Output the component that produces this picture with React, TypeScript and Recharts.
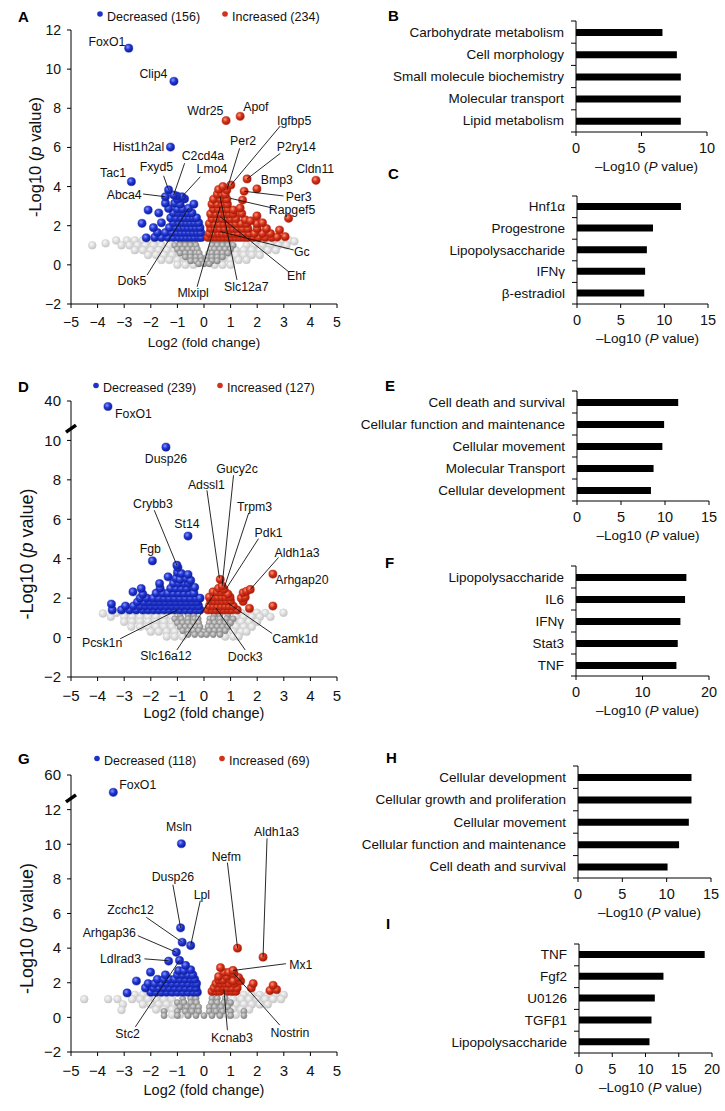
import React from 'react';
import { ScatterChart, Scatter, XAxis, YAxis, ReferenceDot, BarChart, Bar, Label } from 'recharts';

const FONT = '"Liberation Sans", Arial, Helvetica, sans-serif';
type P = [number, number];
type Ann = { name: string; x: number; y: number; sx?: number; sy?: number; px?: number; py?: number };

// ---------------- Panel A (volcano) ----------------
const aDecreased: P[] = [
  [-2.17,1.38],[-1.85,1.4],[-1.6,1.4],[-1.35,1.4],[-1.15,1.4],[-0.95,1.4],[-0.8,1.4],[-0.65,1.4],[-0.5,1.4],[-0.35,1.4],[-0.2,1.4],[-0.1,1.4],
  [-1.75,1.65],[-1.45,1.65],[-1.2,1.65],[-1.0,1.65],[-0.85,1.65],[-0.7,1.65],[-0.55,1.65],[-0.4,1.65],[-0.25,1.65],[-0.12,1.65],
  [-1.9,1.9],[-1.3,1.9],[-1.05,1.9],[-0.9,1.9],[-0.75,1.9],[-0.6,1.9],[-0.45,1.9],[-0.3,1.9],[-0.15,1.9],
  [-2.33,2.12],[-1.6,2.15],[-1.15,2.15],[-0.95,2.15],[-0.8,2.15],[-0.65,2.15],[-0.5,2.15],[-0.35,2.15],[-0.2,2.15],
  [-1.25,2.4],[-1.05,2.4],[-0.85,2.4],[-0.7,2.4],[-0.55,2.4],[-0.4,2.4],[-0.28,2.4],
  [-1.7,2.65],[-1.15,2.65],[-0.95,2.65],[-0.75,2.65],[-0.6,2.65],[-0.45,2.65],
  [-2.1,2.8],[-1.33,2.88],[-1.0,2.85],[-0.8,2.85],[-0.58,2.89],
  [-1.45,3.15],[-1.1,3.15],[-0.9,3.1],[-0.38,3.1],
  [-0.73,3.37],[-1.0,3.35],
  [-1.45,3.48],[-0.83,3.48],[-1.03,3.52],[-1.14,3.57],[-1.33,3.83],
  [-2.73,4.25],[-1.26,6.02],[-1.13,9.38],[-2.83,11.07],
];
const aIncreased: P[] = [
  [0.15,1.4],[0.3,1.4],[0.45,1.4],[0.6,1.4],[0.75,1.4],[0.9,1.4],[1.05,1.4],[1.2,1.4],[1.35,1.4],[1.5,1.4],[1.65,1.4],[1.85,1.4],[2.05,1.4],[2.3,1.4],[2.55,1.4],[2.75,1.42],[3.05,1.44],
  [0.2,1.6],[0.38,1.6],[0.55,1.6],[0.7,1.6],[0.85,1.6],[1.0,1.6],[1.15,1.6],[1.3,1.6],[1.5,1.6],[1.7,1.6],[1.9,1.6],[2.2,1.6],[2.5,1.6],[2.84,1.78],
  [0.25,1.85],[0.42,1.85],[0.6,1.85],[0.78,1.85],[0.95,1.85],[1.1,1.85],[1.25,1.85],[1.45,1.85],[1.65,1.85],[2.0,1.85],[2.35,1.85],
  [0.2,2.1],[0.4,2.1],[0.58,2.1],[0.75,2.1],[0.9,2.1],[1.05,2.1],[1.2,2.1],[1.4,2.1],[1.6,2.1],[1.99,2.1],[2.2,2.15],
  [0.3,2.35],[0.5,2.35],[0.68,2.35],[0.85,2.35],[1.0,2.35],[1.2,2.35],[1.55,2.3],[1.75,2.25],[1.99,2.5],[3.18,2.38],
  [0.25,2.6],[0.45,2.6],[0.62,2.6],[0.8,2.6],[0.95,2.6],[1.1,2.6],[1.42,2.62],
  [0.35,2.85],[0.55,2.85],[0.75,2.85],[0.9,2.85],[1.11,2.8],[1.36,2.9],
  [0.3,3.1],[0.5,3.1],[0.68,3.1],[0.88,3.1],
  [0.36,3.35],[0.62,3.35],[0.86,3.35],[1.45,3.31],
  [0.5,3.6],[0.67,3.6],[0.8,3.6],
  [0.55,3.85],[0.86,3.83],[0.71,4.0],
  [1.01,4.08],[1.62,4.39],[1.99,3.88],[1.51,3.76],[4.21,4.32],[0.83,7.37],[1.36,7.59],
];
const aLightGray: P[] = [
  [-3.3,1.25],[-2.9,1.25],[-2.6,1.25],[-2.3,1.25],[-2.0,1.25],[-1.7,1.25],[2.0,1.25],[2.3,1.25],[2.6,1.25],[2.9,1.25],[3.2,1.25],[3.4,1.2],
  [-4.2,1.0],[-3.7,1.1],[-3.1,1.0],[-2.8,1.0],[-2.5,1.0],[-2.2,1.0],[-1.9,1.0],[-1.6,1.0],[-1.3,1.0],[1.6,1.0],[1.9,1.0],[2.2,1.0],[2.5,1.0],[2.8,1.0],[3.1,1.0],
  [-2.6,0.75],[-2.3,0.75],[-2.0,0.75],[-1.7,0.75],[-1.4,0.75],[-1.1,0.75],[1.2,0.75],[1.5,0.75],[1.8,0.75],[2.1,0.75],[2.4,0.75],[2.7,0.75],
  [-2.1,0.5],[-1.8,0.5],[-1.5,0.5],[-1.2,0.5],[-0.9,0.5],[0.9,0.5],[1.2,0.5],[1.5,0.5],[1.8,0.5],[2.1,0.5],
  [-1.6,0.25],[-1.3,0.25],[-1.0,0.25],[-0.7,0.25],[0.7,0.25],[1.0,0.25],[1.3,0.25],[1.6,0.25],
  [-1.0,0.0],[-0.7,0.0],[-0.4,0.0],[0.4,0.0],[0.7,0.0],[1.0,0.0],
];
const aDarkGray: P[] = [
  [-0.9,1.2],[-0.7,1.2],[-0.5,1.2],[-0.35,1.2],[0.35,1.2],[0.5,1.2],[0.7,1.2],[0.9,1.2],
  [-1.1,1.0],[-0.9,1.0],[-0.7,1.0],[-0.5,1.0],[-0.3,1.0],[0.3,1.0],[0.5,1.0],[0.7,1.0],[0.9,1.0],[1.1,1.0],
  [-1.0,0.8],[-0.8,0.8],[-0.6,0.8],[-0.4,0.8],[-0.25,0.8],[0.25,0.8],[0.4,0.8],[0.6,0.8],[0.8,0.8],[1.0,0.8],
  [-0.9,0.6],[-0.7,0.6],[-0.5,0.6],[-0.3,0.6],[-0.18,0.6],[0.18,0.6],[0.3,0.6],[0.5,0.6],[0.7,0.6],[0.9,0.6],
  [-0.7,0.4],[-0.5,0.4],[-0.3,0.4],[-0.12,0.4],[0.12,0.4],[0.3,0.4],[0.5,0.4],[0.7,0.4],
  [-0.5,0.2],[-0.3,0.2],[-0.1,0.2],[0.1,0.2],[0.3,0.2],[0.5,0.2],
  [-0.2,0.05],[0.0,0.05],[0.2,0.05],
];
const aLabels: Ann[] = [
  { name: 'FoxO1', x: -3.65, y: 11.4 },
  { name: 'Clip4', x: -1.9, y: 9.75 },
  { name: 'Wdr25', x: 0.05, y: 7.88 },
  { name: 'Apof', x: 1.95, y: 8.05 },
  { name: 'Hist1h2al', x: -2.46, y: 6.0 },
  { name: 'Tac1', x: -3.42, y: 4.68 },
  { name: 'Fxyd5', x: -1.79, y: 5.02, sx: -1.52, sy: 4.55, px: -1.33, py: 3.83 },
  { name: 'C2cd4a', x: -0.04, y: 5.58, sx: -0.73, sy: 5.19, px: -1.14, py: 3.57 },
  { name: 'Lmo4', x: 0.3, y: 4.88, sx: -0.14, sy: 4.5, px: -0.83, py: 3.48 },
  { name: 'Abca4', x: -3.0, y: 3.59, sx: -2.29, sy: 3.62, px: -1.45, py: 3.48 },
  { name: 'Dok5', x: -2.71, y: -0.81, sx: -2.14, sy: -0.52, px: -0.58, py: 2.89 },
  { name: 'Mlxipl', x: -0.41, y: -1.45, sx: -0.26, sy: -1.12, px: 0.61, py: 2.97 },
  { name: 'Slc12a7', x: 1.59, y: -1.12, sx: 1.24, sy: -0.77, px: 0.6, py: 3.5 },
  { name: 'Ehf', x: 3.47, y: -0.57, sx: 3.18, sy: -0.35, px: 0.61, py: 2.46 },
  { name: 'Gc', x: 3.68, y: 0.67, sx: 3.37, sy: 0.76, px: 0.61, py: 1.7 },
  { name: 'Per2', x: 1.47, y: 6.33, sx: 1.34, sy: 5.96, px: 0.86, py: 3.83 },
  { name: 'Igfbp5', x: 3.39, y: 7.35, sx: 2.87, sy: 7.1, px: 1.01, py: 4.08 },
  { name: 'P2ry14', x: 3.47, y: 6.04, sx: 2.87, sy: 5.7, px: 1.62, py: 4.39 },
  { name: 'Cldn11', x: 4.18, y: 4.88 },
  { name: 'Bmp3', x: 2.74, y: 4.34 },
  { name: 'Per3', x: 3.56, y: 3.45, sx: 2.99, sy: 3.52, px: 1.51, py: 3.76 },
  { name: 'Rapgef5', x: 3.31, y: 2.8, sx: 2.62, sy: 2.89, px: 0.99, py: 3.4 },
];

// ---------------- Panel D (volcano) ----------------
const dDecreased: P[] = [
  [-3.45,1.4],[-3.1,1.4],[-2.8,1.4],[-2.55,1.4],[-2.3,1.4],[-2.1,1.4],[-1.9,1.4],[-1.7,1.4],[-1.5,1.4],[-1.3,1.4],[-1.1,1.4],[-0.9,1.4],[-0.7,1.4],[-0.5,1.4],[-0.3,1.4],[-0.15,1.4],
  [-3.48,1.7],[-2.95,1.6],[-2.65,1.6],[-2.4,1.6],[-2.2,1.6],[-2.0,1.6],[-1.8,1.6],[-1.6,1.6],[-1.4,1.6],[-1.2,1.6],[-1.0,1.6],[-0.8,1.6],[-0.6,1.6],[-0.4,1.6],[-0.2,1.6],
  [-2.5,1.8],[-2.25,1.8],[-2.05,1.8],[-1.85,1.8],[-1.65,1.8],[-1.45,1.8],[-1.25,1.8],[-1.05,1.8],[-0.85,1.8],[-0.65,1.8],[-0.45,1.8],[-0.25,1.8],
  [-2.4,2.0],[-2.15,2.0],[-1.9,2.0],[-1.7,2.0],[-1.5,2.0],[-1.3,2.0],[-1.1,2.0],[-0.9,2.0],[-0.7,2.0],[-0.5,2.0],[-0.3,2.0],[-0.15,2.0],
  [-2.67,2.32],[-2.3,2.2],[-1.8,2.25],[-1.55,2.25],[-1.35,2.25],[-1.15,2.25],[-0.95,2.25],[-0.75,2.25],[-0.55,2.25],[-0.38,2.25],
  [-2.36,2.49],[-1.65,2.5],[-1.25,2.5],[-1.05,2.5],[-0.85,2.5],[-0.65,2.5],[-0.35,2.55],
  [-1.67,2.74],[-1.15,2.75],[-0.95,2.75],[-0.75,2.75],[-0.58,2.75],
  [-1.35,3.08],[-1.05,3.0],[-0.9,2.95],[-0.67,3.0],[-0.5,2.9],
  [-1.0,3.3],[-0.85,3.25],[-0.6,3.2],
  [-0.98,3.55],[-1.02,3.67],[-1.94,3.89],[-0.6,5.15],[-1.43,9.66],[-3.61,35.8],
];
const dIncreased: P[] = [
  [0.15,1.4],[0.3,1.4],[0.45,1.4],[0.6,1.4],[0.75,1.4],[0.9,1.4],[1.05,1.4],[1.25,1.4],[1.71,1.48],
  [0.2,1.6],[0.35,1.6],[0.5,1.6],[0.65,1.6],[0.8,1.6],[0.95,1.6],[1.1,1.6],[2.59,1.6],
  [0.25,1.85],[0.4,1.85],[0.55,1.85],[0.7,1.85],[0.85,1.85],[1.0,1.85],[1.47,1.83],
  [0.2,2.05],[0.38,2.05],[0.52,2.05],[0.68,2.05],[0.82,2.05],[0.98,2.05],[1.4,2.0],[1.55,2.05],
  [0.34,2.32],[0.5,2.3],[0.65,2.3],[0.8,2.3],[0.9,2.2],[1.47,2.27],[1.6,2.35],
  [0.55,2.5],[0.75,2.45],[1.74,2.44],
  [0.68,2.61],[0.61,2.95],[2.59,3.22],
];
const dLightGray: P[] = [
  [-3.8,1.22],[-3.3,1.25],[-3.0,1.25],[-2.7,1.25],[-2.4,1.25],[-2.1,1.25],[-1.8,1.25],[1.4,1.25],[1.7,1.25],[1.99,1.26],[2.3,1.25],[2.99,1.26],
  [-3.5,1.05],[-3.0,1.05],[-2.7,1.05],[-2.4,1.05],[-2.1,1.05],[-1.8,1.05],[-1.5,1.05],[-1.2,1.05],[1.2,1.05],[1.5,1.05],[1.8,1.05],[2.1,1.05],[2.5,1.05],
  [-3.0,0.8],[-2.7,0.8],[-2.4,0.8],[-2.1,0.8],[-1.8,0.8],[-1.5,0.8],[-1.2,0.8],[1.1,0.8],[1.4,0.8],[1.7,0.8],[2.0,0.8],
  [-2.73,0.55],[-2.4,0.55],[-2.1,0.55],[-1.8,0.55],[-1.5,0.55],[-1.2,0.55],[1.2,0.55],[1.5,0.55],[1.8,0.55],
  [-2.0,0.3],[-1.7,0.3],[-1.4,0.3],[-1.1,0.3],[1.1,0.3],[1.4,0.3],[1.6,0.3],
  [-1.4,0.05],[-1.1,0.05],[-0.8,0.05],[0.8,0.05],[1.1,0.05],[1.3,0.05],
];
const dDarkGray: P[] = [
  [-0.9,1.15],[-0.6,1.15],[-0.38,1.15],[0.38,1.15],[0.6,1.15],[0.9,1.15],
  [-1.1,0.95],[-0.85,0.95],[-0.6,0.95],[-0.35,0.95],[-0.22,0.95],[0.22,0.95],[0.35,0.95],[0.6,0.95],[0.85,0.95],[1.1,0.95],
  [-1.0,0.75],[-0.8,0.75],[-0.6,0.75],[-0.4,0.75],[-0.2,0.75],[0.2,0.75],[0.4,0.75],[0.6,0.75],[0.8,0.75],[1.0,0.75],
  [-0.9,0.55],[-0.7,0.55],[-0.5,0.55],[-0.3,0.55],[-0.15,0.55],[0.15,0.55],[0.3,0.55],[0.5,0.55],[0.7,0.55],[0.9,0.55],
  [-0.8,0.35],[-0.6,0.35],[-0.4,0.35],[-0.2,0.35],[0.0,0.3],[0.2,0.35],[0.4,0.35],[0.6,0.35],[0.8,0.35],
  [-0.6,0.15],[-0.35,0.15],[-0.1,0.15],[0.1,0.15],[0.35,0.15],[0.6,0.15],
];
const dLabels: Ann[] = [
  { name: 'FoxO1', x: -2.65, y: 11.35 },
  { name: 'Dusp26', x: -1.43, y: 9.07 },
  { name: 'St14', x: -0.64, y: 5.75 },
  { name: 'Fgb', x: -2.02, y: 4.48 },
  { name: 'Crybb3', x: -1.92, y: 6.76, sx: -1.87, sy: 6.46, px: -1.02, py: 3.67 },
  { name: 'Adssl1', x: 0.09, y: 7.76, sx: 0.11, sy: 7.47, px: 0.58, py: 3.0 },
  { name: 'Gucy2c', x: 1.24, y: 8.53, sx: 1.11, sy: 8.23, px: 0.68, py: 2.61 },
  { name: 'Trpm3', x: 1.9, y: 6.62, sx: 1.68, sy: 6.32, px: 0.77, py: 2.57 },
  { name: 'Pdk1', x: 2.43, y: 5.31, sx: 2.05, sy: 5.02, px: 0.84, py: 2.49 },
  { name: 'Aldh1a3', x: 3.5, y: 4.31, sx: 2.8, sy: 4.06, px: 1.74, py: 2.44 },
  { name: 'Arhgap20', x: 3.68, y: 2.91 },
  { name: 'Camk1d', x: 3.43, y: -0.09, sx: 2.56, sy: 0.21, px: 0.9, py: 1.75 },
  { name: 'Dock3', x: 1.55, y: -0.97, sx: 1.55, sy: -0.63, px: 0.45, py: 1.5 },
  { name: 'Pcsk1n', x: -3.83, y: -0.29, sx: -3.15, sy: -0.06, px: -1.02, py: 1.39 },
  { name: 'Slc16a12', x: -1.43, y: -0.94, sx: -1.02, sy: -0.63, px: 0.36, py: 2.15 },
];

// ---------------- Panel G (volcano) ----------------
const gDecreased: P[] = [
  [-2.89,1.41],[-2.0,1.45],[-1.8,1.45],[-1.6,1.45],[-1.4,1.45],[-1.2,1.45],[-1.0,1.45],[-0.8,1.45],[-0.6,1.45],[-0.4,1.45],[-0.25,1.45],
  [-2.2,1.7],[-1.9,1.7],[-1.7,1.7],[-1.5,1.7],[-1.3,1.7],[-1.1,1.7],[-0.9,1.7],[-0.7,1.7],[-0.5,1.7],[-0.3,1.7],
  [-2.1,1.95],[-1.85,1.95],[-1.6,1.95],[-1.4,1.95],[-1.2,1.95],[-1.0,1.95],[-0.8,1.95],[-0.6,1.95],[-0.4,1.95],[-0.28,1.95],
  [-2.54,2.1],[-1.75,2.2],[-1.5,2.2],[-1.3,2.2],[-1.1,2.2],[-0.9,2.2],[-0.7,2.2],[-0.5,2.2],[-0.35,2.2],
  [-2.01,2.61],[-1.45,2.45],[-1.0,2.45],[-0.8,2.45],[-0.6,2.45],[-0.42,2.45],
  [-0.95,2.7],[-0.75,2.7],[-0.5,2.75],
  [-0.69,3.0],[-0.92,3.29],[-1.33,3.25],[-1.04,3.76],[-0.82,4.34],[-0.5,4.15],[-0.88,5.17],[-0.85,10.03],[-3.41,36],
];
const gIncreased: P[] = [
  [0.3,1.5],[0.45,1.5],[0.6,1.5],[0.75,1.6],[0.9,1.5],[1.05,1.5],[1.2,1.5],[1.78,1.7],[2.48,1.55],[2.73,1.6],
  [0.38,1.7],[0.55,1.7],[0.72,1.75],[0.88,1.7],[1.05,1.7],[1.25,1.7],
  [0.45,1.95],[0.62,1.95],[0.8,1.95],[0.95,1.95],[1.15,1.95],[1.85,1.95],[2.6,1.85],
  [0.55,2.15],[0.72,2.15],[1.0,2.15],[1.1,2.1],[1.38,2.1],
  [0.55,2.35],[0.85,2.35],[1.3,2.3],
  [0.75,2.6],[0.93,2.6],[1.13,2.52],[1.09,2.71],[0.62,2.87],
  [1.26,4.0],[2.22,3.48],
];
const gLightGray: P[] = [
  [-2.6,1.3],[-2.3,1.3],[-2.0,1.3],[-1.7,1.3],[1.5,1.3],[1.8,1.3],[2.1,1.3],[2.4,1.3],[2.7,1.3],[3.0,1.3],
  [-4.5,1.05],[-3.6,1.05],[-3.25,1.05],[-2.7,1.05],[-2.4,1.05],[-2.1,1.05],[-1.8,1.05],[-1.5,1.05],[-1.2,1.05],[1.1,1.05],[1.4,1.05],[1.7,1.05],[2.0,1.05],[2.3,1.05],[2.6,1.05],[2.9,1.05],
  [-3.05,0.75],[-2.3,0.75],[-2.0,0.75],[-1.7,0.75],[-1.4,0.75],[-1.1,0.75],[0.9,0.75],[1.2,0.75],[1.5,0.75],[1.8,0.75],[2.1,0.75],[2.4,0.75],
  [-3.1,0.42],[-1.8,0.45],[-1.5,0.45],[-1.2,0.45],[-0.9,0.45],[0.8,0.45],[1.1,0.45],[1.4,0.45],[1.7,0.45],
  [-1.2,0.15],[-0.9,0.15],[-0.6,0.15],[0.6,0.15],[0.9,0.15],[1.2,0.15],
];
const gDarkGray: P[] = [
  [-0.8,1.1],[-0.5,1.1],[-0.3,1.1],[0.3,1.1],[0.5,1.1],[0.8,1.1],
  [-1.0,0.85],[-0.75,0.85],[-0.5,0.85],[-0.28,0.85],[0.28,0.85],[0.5,0.85],[0.75,0.85],[1.0,0.85],
  [-0.9,0.6],[-0.65,0.6],[-0.4,0.6],[-0.2,0.6],[0.2,0.6],[0.4,0.6],[0.65,0.6],[0.9,0.6],
  [-1.5,0.35],[-1.0,0.35],[-0.7,0.35],[-0.45,0.35],[-0.2,0.35],[0.2,0.35],[0.45,0.35],[0.7,0.35],[1.0,0.35],[1.5,0.35],
  [-1.5,0.1],[-1.0,0.1],[-0.6,0.1],[-0.3,0.1],[0.0,0.1],[0.3,0.1],[0.6,0.1],[1.0,0.1],[1.5,0.1],
];
const gLabels: Ann[] = [
  { name: 'FoxO1', x: -2.49, y: 13.44 },
  { name: 'Msln', x: -0.94, y: 11.0 },
  { name: 'Nefm', x: 0.84, y: 9.26, sx: 0.88, sy: 8.94, px: 1.26, py: 4.0 },
  { name: 'Aldh1a3', x: 2.73, y: 10.72, sx: 2.37, sy: 10.34, px: 2.22, py: 3.48 },
  { name: 'Dusp26', x: -1.17, y: 8.13, sx: -1.17, sy: 7.66, px: -0.88, py: 5.17 },
  { name: 'Lpl', x: -0.08, y: 7.06, sx: -0.14, sy: 6.74, px: -0.5, py: 4.15 },
  { name: 'Zcchc12', x: -2.76, y: 6.22, sx: -2.17, sy: 5.78, px: -0.82, py: 4.34 },
  { name: 'Arhgap36', x: -3.56, y: 4.88, sx: -2.49, sy: 4.72, px: -1.04, py: 3.76 },
  { name: 'Ldlrad3', x: -3.14, y: 3.38, sx: -2.24, sy: 3.38, px: -1.33, py: 3.27 },
  { name: 'Stc2', x: -2.87, y: -0.97, sx: -2.58, sy: -0.55, px: -0.92, py: 3.29 },
  { name: 'Mx1', x: 3.64, y: 3.0, sx: 3.08, sy: 3.1, px: 1.09, py: 2.71 },
  { name: 'Kcnab3', x: 1.05, y: -1.21, sx: 0.88, sy: -0.74, px: 0.75, py: 1.6 },
  { name: 'Nostrin', x: 3.23, y: -0.89, sx: 2.85, sy: -0.45, px: 1.13, py: 2.52 },
];

// ---------------- Bar panels ----------------
const bCats = ['Carbohydrate metabolism', 'Cell morphology', 'Small molecule biochemistry', 'Molecular transport', 'Lipid metabolism'];
const bVals = [6.6, 7.7, 8.0, 8.0, 8.0];
const cCats = ['Hnf1\u03b1', 'Progestrone', 'Lipopolysaccharide', 'IFN\u03b3', '\u03b2-estradiol'];
const cVals = [11.9, 8.7, 8.0, 7.8, 7.7];
const eCats = ['Cell death and survival', 'Cellular function and maintenance', 'Cellular movement', 'Molecular Transport', 'Cellular development'];
const eVals = [11.5, 9.9, 9.7, 8.7, 8.4];
const fCats = ['Lipopolysaccharide', 'IL6', 'IFN\u03b3', 'Stat3', 'TNF'];
const fVals = [16.6, 16.4, 15.7, 15.3, 15.1];
const hCats = ['Cellular development', 'Cellular growth and proliferation', 'Cellular movement', 'Cellular function and maintenance', 'Cell death and survival'];
const hVals = [12.8, 12.8, 12.5, 11.4, 10.1];
const iCats = ['TNF', 'Fgf2', 'U0126', 'TGF\u03b21', 'Lipopolysaccharide'];
const iVals = [18.9, 12.7, 11.4, 10.9, 10.6];

const xTicks = [-5, -4, -3, -2, -1, 0, 1, 2, 3, 4, 5];
const aYTicks = [-2, 0, 2, 4, 6, 8, 10, 12];
const dYTicks = [-2, 0, 2, 4, 6, 8, 10, 12];
const gYTicks = [-2, 0, 2, 4, 6, 8, 10, 12, 14];
const dTopLabel: Record<number, string> = { 12: '40' };
const gTopLabel: Record<number, string> = { 14: '60' };

const fmt = (v: number) => (v < 0 ? '\u2212' + Math.abs(v) : String(v));
const noBreak = (v: number) => v;
const breakD = (v: number) => (v > 10 ? 10 + (v - 10) / 15 : v);
const breakG = (v: number) => (v > 12 ? 12 + (v - 12) / 24 : v);

const dot = (fill: string, r: number, stroke: string) => (p: any) =>
  p.cx == null ? <g /> : <circle cx={p.cx} cy={p.cy} r={r} fill={fill} stroke={stroke} strokeWidth={0.5} />;

const noShape = () => <g />;

const annText = (fs: number) => (p: any) =>
  p.cx == null ? <g /> : (
    <text x={p.cx} y={p.cy} textAnchor="middle" dominantBaseline="central" fontSize={fs} fontFamily={FONT} fill="#111">
      {p.payload.name}
    </text>
  );

const breakShape = (p: any) => (
  <line x1={p.cx - 5} y1={p.cy + 3.5} x2={p.cx + 5} y2={p.cy - 3.5} stroke="#000" strokeWidth={3.6} />
);

type VProps = {
  k: string; top: number; mTop: number; plotH: number; xAxisH: number; yMax: number; yTicks: number[];
  topLabel: Record<number, string>; brk: (v: number) => number; breakY?: number;
  dec: P[]; inc: P[]; lg: P[]; dg: P[]; ann: Ann[];
  tickFs: number; xTitleFs: number; xTitleDy: number; yTitleFs: number; yTitleDx: number; yTitleDy: number;
};

function Volcano(v: VProps) {
  const H = v.mTop + v.plotH + v.xAxisH;
  const pts = (a: P[]) => a.map(([x, y]) => ({ x, y: v.brk(y) }));
  const yFmt = (t: number) => (v.topLabel[t] !== undefined ? v.topLabel[t] : fmt(t));
  const xTitle = (props: any) => {
    const vb = props.viewBox;
    return (
      <text x={vb.x + vb.width / 2} y={vb.y + v.xTitleDy} textAnchor="middle" dominantBaseline="central" fontSize={v.xTitleFs} fontFamily={FONT} fill="#111">
        Log2 (fold change)
      </text>
    );
  };
  const yTitle = (props: any) => {
    const vb = props.viewBox;
    const cx = vb.x + v.yTitleDx;
    const cy = vb.y + vb.height / 2 + v.yTitleDy;
    return (
      <text x={cx} y={cy} transform={`rotate(-90 ${cx} ${cy})`} textAnchor="middle" dominantBaseline="central" fontSize={v.yTitleFs} fontFamily={FONT} fill="#111">
        -Log10 (<tspan fontStyle="italic">p</tspan> value)
      </text>
    );
  };
  const tickStyle = { fontSize: v.tickFs, fontFamily: FONT, fill: '#111' };
  const leaders = v.ann.filter((a) => a.sx !== undefined);
  return (
    <div style={{ position: 'absolute', left: 0, top: v.top, width: 360, height: H }}>
      <ScatterChart width={360} height={H} margin={{ top: v.mTop, right: 23, bottom: 0, left: 0 }}>
        <defs>
          <radialGradient id={`blue-${v.k}`} cx="0.38" cy="0.35" r="0.7">
            <stop offset="0" stopColor="#8a96ff" />
            <stop offset="0.45" stopColor="#2238d6" />
            <stop offset="1" stopColor="#0a1690" />
          </radialGradient>
          <radialGradient id={`red-${v.k}`} cx="0.38" cy="0.35" r="0.7">
            <stop offset="0" stopColor="#ff9a7a" />
            <stop offset="0.45" stopColor="#d8321a" />
            <stop offset="1" stopColor="#981606" />
          </radialGradient>
          <radialGradient id={`lg-${v.k}`} cx="0.38" cy="0.35" r="0.7">
            <stop offset="0" stopColor="#f8f8f8" />
            <stop offset="0.5" stopColor="#dedede" />
            <stop offset="1" stopColor="#c2c2c2" />
          </radialGradient>
          <radialGradient id={`dg-${v.k}`} cx="0.38" cy="0.35" r="0.7">
            <stop offset="0" stopColor="#dcdcdc" />
            <stop offset="0.5" stopColor="#a8a8a8" />
            <stop offset="1" stopColor="#7a7a7a" />
          </radialGradient>
        </defs>
        <XAxis type="number" dataKey="x" domain={[-5, 5]} ticks={xTicks} interval={0} tickFormatter={fmt}
          height={v.xAxisH} tickSize={4} tickMargin={9} axisLine={{ stroke: '#000' }} tickLine={{ stroke: '#000' }} tick={tickStyle}>
          <Label content={xTitle} />
        </XAxis>
        <YAxis type="number" dataKey="y" domain={[-2, v.yMax]} ticks={v.yTicks} interval={0} tickFormatter={yFmt}
          width={71} tickSize={4} tickMargin={6} axisLine={{ stroke: '#000' }} tickLine={{ stroke: '#000' }} tick={tickStyle}>
          <Label content={yTitle} />
        </YAxis>
        <XAxis xAxisId="top" orientation="top" type="number" domain={[0, 1]} tick={false} tickLine={false} axisLine={{ stroke: '#9a9a9a' }} height={0} />
        <YAxis yAxisId="right" orientation="right" type="number" domain={[0, 1]} tick={false} tickLine={false} axisLine={{ stroke: '#9a9a9a' }} width={0} />
        <Scatter data={pts(v.lg)} shape={dot(`url(#lg-${v.k})`, 3.9, '#cbcbcb')} isAnimationActive={false} />
        <Scatter data={pts(v.dg)} shape={dot(`url(#dg-${v.k})`, 3.1, '#8a8a8a')} isAnimationActive={false} />
        <Scatter data={pts(v.dec)} shape={dot(`url(#blue-${v.k})`, 4.1, '#1a2cb0')} isAnimationActive={false} />
        <Scatter data={pts(v.inc)} shape={dot(`url(#red-${v.k})`, 4.1, '#b82410')} isAnimationActive={false} />
        {leaders.map((a) => (
          <Scatter key={a.name}
            data={[{ x: a.sx as number, y: a.sy as number }, { x: a.px as number, y: a.py as number }]}
            line={{ stroke: '#111', strokeWidth: 0.9 }} shape={noShape} isAnimationActive={false} />
        ))}
        <Scatter data={v.ann} shape={annText(12.3)} isAnimationActive={false} />
        {v.breakY !== undefined && <ReferenceDot x={-5} y={v.breakY} r={0} shape={breakShape} ifOverflow="visible" />}
      </ScatterChart>
    </div>
  );
}

type BProps = {
  top: number; height: number; mTop: number; xAxisH: number; yAxisW: number; right: number;
  cats: string[]; vals: number[]; max: number; ticks: number[];
};

function BarPanel(b: BProps) {
  const data = b.cats.map((name, i) => ({ name, v: b.vals[i] }));
  const plotH = b.height - b.mTop - b.xAxisH;
  const band = plotH / b.cats.length;
  const n = b.cats.length;
  const catTick = (p: any) => {
    const ax = p.x + 12;
    return (
      <g>
        <text x={p.x} y={p.y} textAnchor="end" dominantBaseline="central" fontSize={13.5} fontFamily={FONT} fill="#111">
          {p.payload.value}
        </text>
        <line x1={ax - 5} x2={ax} y1={p.y - band / 2} y2={p.y - band / 2} stroke="#000" />
        {p.index === n - 1 && <line x1={ax - 5} x2={ax} y1={p.y + band / 2} y2={p.y + band / 2} stroke="#000" />}
      </g>
    );
  };
  const xTitle = (props: any) => {
    const vb = props.viewBox;
    return (
      <text x={vb.x + vb.width / 2 + 5} y={vb.y + 34} textAnchor="middle" dominantBaseline="central" fontSize={13.5} fontFamily={FONT} fill="#111">
        {'\u2013'}Log10 (<tspan fontStyle="italic">P</tspan> value)
      </text>
    );
  };
  return (
    <div style={{ position: 'absolute', left: 360, top: b.top, width: 365, height: b.height }}>
      <BarChart layout="vertical" width={365} height={b.height} data={data} margin={{ top: b.mTop, right: b.right, bottom: 0, left: 0 }}>
        <XAxis type="number" domain={[0, b.max]} ticks={b.ticks} interval={0} height={b.xAxisH} tickSize={4} tickMargin={7}
          axisLine={{ stroke: '#000' }} tickLine={{ stroke: '#000' }} tick={{ fontSize: 14.5, fontFamily: FONT, fill: '#111' }}>
          <Label content={xTitle} />
        </XAxis>
        <YAxis type="category" dataKey="name" width={b.yAxisW} tickLine={false} tickSize={6} tickMargin={6} interval={0}
          axisLine={{ stroke: '#000' }} tick={catTick} />
        <XAxis xAxisId="top" orientation="top" type="number" domain={[0, 1]} tick={false} tickLine={false} axisLine={{ stroke: '#9a9a9a' }} height={0} />
        <YAxis yAxisId="right" orientation="right" type="number" domain={[0, 1]} tick={false} tickLine={false} axisLine={{ stroke: '#9a9a9a' }} width={0} />
        <Bar dataKey="v" fill="#000" barSize={7} isAnimationActive={false} />
      </BarChart>
    </div>
  );
}

function Letter({ x, y, t }: { x: number; y: number; t: string }) {
  return (
    <text x={x} y={y} dominantBaseline="central" fontSize={15} fontWeight={900} fontFamily={FONT} fill="#000">{t}</text>
  );
}

function LegendRow({ x1, x2, y, dec, inc }: { x1: number; x2: number; y: number; dec: string; inc: string }) {
  return (
    <g>
      <circle cx={x1} cy={y - 2.5} r={2.8} fill="#1c30cc" />
      <text x={x1 + 7} y={y} dominantBaseline="central" fontSize={12.5} fontFamily={FONT} fill="#111">{dec}</text>
      <circle cx={x2} cy={y - 2.5} r={2.8} fill="#d2321a" />
      <text x={x2 + 7} y={y} dominantBaseline="central" fontSize={12.5} fontFamily={FONT} fill="#111">{inc}</text>
    </g>
  );
}

export default function App() {
  return (
    <div style={{ position: 'absolute', left: 0, top: 0, width: 725, height: 1111, background: '#fff', fontFamily: FONT, overflow: 'hidden' }}>
      <Volcano k="a" top={0} mTop={30} plotH={274} xAxisH={56} yMax={12} yTicks={aYTicks} topLabel={{}} brk={noBreak}
        dec={aDecreased} inc={aIncreased} lg={aLightGray} dg={aDarkGray} ann={aLabels}
        tickFs={14} xTitleFs={13.5} xTitleDy={38} yTitleFs={16.5} yTitleDx={35} yTitleDy={-10} />
      <Volcano k="d" top={370} mTop={31} plotH={276} xAxisH={53} yMax={12} yTicks={dYTicks} topLabel={dTopLabel} brk={breakD} breakY={10.6}
        dec={dDecreased} inc={dIncreased} lg={dLightGray} dg={dDarkGray} ann={dLabels}
        tickFs={15} xTitleFs={14.5} xTitleDy={36} yTitleFs={18} yTitleDx={27} yTitleDy={15} />
      <Volcano k="g" top={740} mTop={35} plotH={277} xAxisH={48} yMax={14} yTicks={gYTicks} topLabel={gTopLabel} brk={breakG} breakY={12.65}
        dec={gDecreased} inc={gIncreased} lg={gLightGray} dg={gDarkGray} ann={gLabels}
        tickFs={15} xTitleFs={14.5} xTitleDy={38} yTitleFs={18} yTitleDx={27} yTitleDy={15} />

      <BarPanel top={0} height={175} mTop={21} xAxisH={43} yAxisW={216} right={18} cats={bCats} vals={bVals} max={10} ticks={[0, 5, 10]} />
      <BarPanel top={175} height={175} mTop={21} xAxisH={46} yAxisW={217} right={17} cats={cCats} vals={cVals} max={15} ticks={[0, 5, 10, 15]} />
      <BarPanel top={370} height={175} mTop={21} xAxisH={44} yAxisW={217} right={16} cats={eCats} vals={eVals} max={15} ticks={[0, 5, 10, 15]} />
      <BarPanel top={545} height={180} mTop={21} xAxisH={49} yAxisW={216} right={16} cats={fCats} vals={fVals} max={20} ticks={[0, 10, 20]} />
      <BarPanel top={740} height={180} mTop={26} xAxisH={42} yAxisW={218} right={14} cats={hCats} vals={hVals} max={15} ticks={[0, 5, 10, 15]} />
      <BarPanel top={920} height={191} mTop={24} xAxisH={58} yAxisW={219} right={13} cats={iCats} vals={iVals} max={20} ticks={[0, 5, 10, 15, 20]} />

      <svg width={725} height={1111} style={{ position: 'absolute', left: 0, top: 0, pointerEvents: 'none' }}>
        <Letter x={18} y={16} t="A" />
        <Letter x={18} y={386} t="D" />
        <Letter x={18} y={758} t="G" />
        <Letter x={388} y={15} t="B" />
        <Letter x={388} y={173} t="C" />
        <Letter x={385} y={385} t="E" />
        <Letter x={385} y={562} t="F" />
        <Letter x={386} y={757} t="H" />
        <Letter x={386} y={923} t="I" />
        <LegendRow x1={100} x2={225} y={16.5} dec="Decreased (156)" inc="Increased (234)" />
        <LegendRow x1={96} x2={220} y={388} dec="Decreased (239)" inc="Increased (127)" />
        <LegendRow x1={97} x2={222} y={761} dec="Decreased (118)" inc="Increased (69)" />
      </svg>
    </div>
  );
}
